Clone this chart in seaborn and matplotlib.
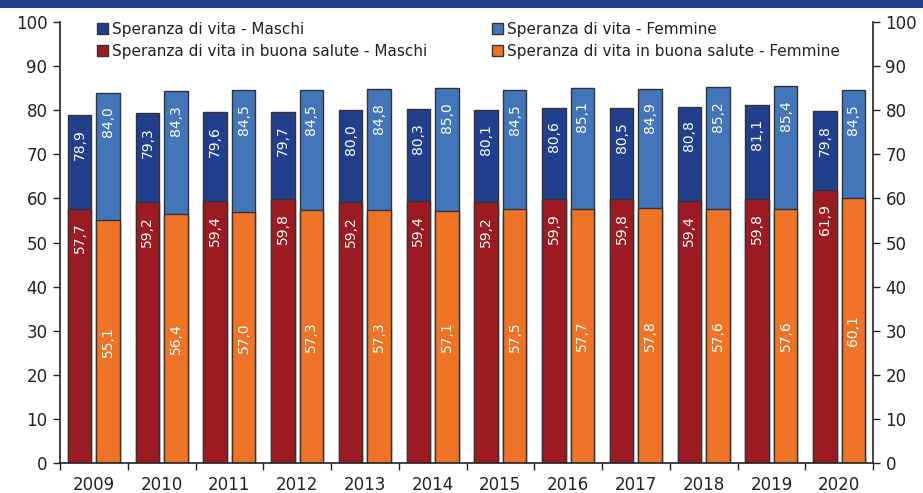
import matplotlib
matplotlib.use("Agg")
import matplotlib.pyplot as plt
import matplotlib.patches as mpatches
from matplotlib.ticker import FixedLocator, MultipleLocator
import seaborn as sns
import pandas as pd

years = [str(y) for y in range(2009, 2021)]
vita_maschi = [78.9, 79.3, 79.6, 79.7, 80.0, 80.3, 80.1, 80.6, 80.5, 80.8, 81.1, 79.8]
vita_femmine = [84.0, 84.3, 84.5, 84.5, 84.8, 85.0, 84.5, 85.1, 84.9, 85.2, 85.4, 84.5]
salute_maschi = [57.7, 59.2, 59.4, 59.8, 59.2, 59.4, 59.2, 59.9, 59.8, 59.4, 59.8, 61.9]
salute_femmine = [55.1, 56.4, 57.0, 57.3, 57.3, 57.1, 57.5, 57.7, 57.8, 57.6, 57.6, 60.1]

labels = ["Speranza di vita - Maschi",
          "Speranza di vita in buona salute - Maschi",
          "Speranza di vita - Femmine",
          "Speranza di vita in buona salute - Femmine"]

c_dblue = "#213F8D"
c_lblue = "#4275BA"
c_red = "#9C1B22"
c_orange = "#EE7326"
edge = "#333333"

sns.set_theme(style="white")
plt.rcParams["font.family"] = ["DejaVu Sans"]

df_tot = pd.DataFrame({"anno": years * 2,
                       "valore": vita_maschi + vita_femmine,
                       "sesso": ["Maschi"] * 12 + ["Femmine"] * 12})
df_sal = pd.DataFrame({"anno": years * 2,
                       "valore": salute_maschi + salute_femmine,
                       "sesso": ["Maschi"] * 12 + ["Femmine"] * 12})

fig = plt.figure(figsize=(9.23, 4.93), dpi=100)
ax = fig.add_axes([60 / 923, 30 / 493, 813 / 923, 441 / 493])

common = dict(x="anno", y="valore", hue="sesso", hue_order=["Maschi", "Femmine"],
              width=0.84, gap=0.178, edgecolor=edge, linewidth=1.0, ax=ax,
              legend=False, errorbar=None, saturation=1)
sns.barplot(data=df_tot, palette=[c_dblue, c_lblue], **common)
sns.barplot(data=df_sal, palette=[c_red, c_orange], **common)

def fmt(v):
    return f"{v:.1f}".replace(".", ",")

for ci, cont in enumerate(ax.containers):
    for rect in cont:
        h = rect.get_height()
        xc = rect.get_x() + rect.get_width() / 2
        if ci == 3:
            ax.text(xc, h / 2, fmt(h), rotation=90, ha="center", va="center",
                    color="white", fontsize=10)
        else:
            ax.annotate(fmt(h), xy=(xc, h), xytext=(0, -10), textcoords="offset points",
                        rotation=90, ha="center", va="top", color="white", fontsize=10)

ax.set_xlim(-0.5, 11.5)
ax.set_ylim(0, 100)
ax.set_xlabel("")
ax.set_ylabel("")
ax.yaxis.set_major_locator(MultipleLocator(10))
ax.xaxis.set_minor_locator(FixedLocator([i - 0.5 for i in range(13)]))
ax.tick_params(axis="x", which="major", length=0, labelsize=12, colors="#222222", pad=9)
ax.tick_params(axis="x", which="minor", length=5, width=1, color="#222222", direction="out", bottom=True)
ax.tick_params(axis="y", length=5, width=1, color="#222222", labelsize=12,
               labelcolor="#222222", direction="out", left=True, pad=4)
for s in ["left", "bottom"]:
    ax.spines[s].set_color("#222222")
    ax.spines[s].set_linewidth(1.2)
ax.spines["top"].set_visible(False)
ax.spines["right"].set_visible(False)

ax2 = ax.twinx()
ax2.set_ylim(0, 100)
ax2.yaxis.set_major_locator(MultipleLocator(10))
ax2.tick_params(axis="y", length=5, width=1, color="#222222", labelsize=12,
                labelcolor="#222222", direction="out", right=True, pad=4)
for s in ["top", "left", "bottom"]:
    ax2.spines[s].set_visible(False)
ax2.spines["right"].set_color("#222222")
ax2.spines["right"].set_linewidth(1.2)
ax2.grid(False)

handles = [mpatches.Patch(facecolor=c, edgecolor=edge, linewidth=1)
           for c in [c_dblue, c_red, c_lblue, c_orange]]
fig.legend(handles, labels, ncol=2, loc="upper left",
           bbox_to_anchor=(97 / 923, 1 - 22 / 493), frameon=False,
           fontsize=11, handlelength=0.7, handleheight=0.7, handletextpad=0.25,
           labelspacing=0.45, columnspacing=4.3, borderaxespad=0, borderpad=0,
           labelcolor="#222222")

fig.patches.append(mpatches.Rectangle((0, 1 - 8 / 493), 1, 8 / 493, transform=fig.transFigure,
                                      facecolor=c_dblue, edgecolor="none", zorder=0))

fig.savefig("out.png", dpi=100)
